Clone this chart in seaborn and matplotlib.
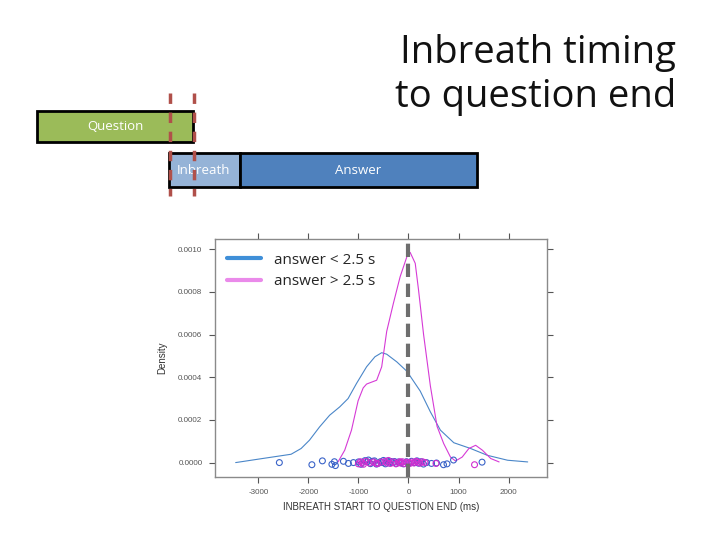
import numpy as np
import pandas as pd
import matplotlib
matplotlib.use("Agg")
import matplotlib.pyplot as plt
import seaborn as sns
from matplotlib.patches import Rectangle
from matplotlib.lines import Line2D

# ---------------- data ----------------
short_x = [-3453, -2918, -2346, -2145, -1978, -1777, -1575, -1374, -1207,
           -1038, -837, -670, -535, -435, -233, -32, 235, 437, 638, 906,
           1241, 1577, 1980, 2382]
short_y = [0.0, 0.000019, 0.000039, 0.000066, 0.000105, 0.000167, 0.000222,
           0.000261, 0.000300, 0.000371, 0.000449, 0.000496, 0.000515,
           0.000508, 0.000472, 0.000428, 0.000335, 0.000238, 0.000152,
           0.000093, 0.000066, 0.000034, 0.000011, 0.000003]

long_x = [-1408, -1274, -1139, -1006, -905, -837, -771, -636, -535, -435,
          -302, -167, -32, 34, 135, 201, 302, 437, 571, 704, 839, 940, 1074,
          1207, 1342, 1477, 1644, 1811]
long_y = [0.000003, 0.000058, 0.000152, 0.000290, 0.000350, 0.000368,
          0.000374, 0.000386, 0.000449, 0.000615, 0.000746, 0.000871,
          0.000965, 0.000985, 0.000934, 0.000809, 0.000600, 0.000360,
          0.000170, 0.000089, 0.000026, 0.0000075, 0.000026, 0.000066,
          0.000081, 0.000058, 0.000019, 0.000003]

short_pts = [-2580, -1930, -1720, -1530, -1480, -1460, -1300, -1200, -1100,
             -1000, -950, -870, -820, -800, -760, -720, -680, -640, -600,
             -560, -520, -500, -460, -420, -380, -350, -320, -280, -240,
             -200, -150, -100, -40, 0, 60, 120, 170, 200, 250, 300, 360, 460,
             560, 700, 770, 900, 1470]
short_jit = [0.0, -0.000010, 0.000008, -0.000008, 0.000004, -0.000014,
             0.000006, -0.000004, 0.0, 0.000003, -0.000008, 0.000009,
             0.000004, 0.000012, -0.000005, 0.000006, 0.000008, -0.000007,
             -0.000003, 0.000004, 0.0, 0.000010, -0.000006, 0.000007,
             -0.000002, 0.000005, 0.0, 0.000005, -0.000004, 0.000003, 0.0,
             -0.000006, 0.000004, -0.000004, 0.000006, 0.0, 0.000008,
             -0.000003, 0.000004, -0.000007, 0.0, -0.000004, -0.000002,
             -0.000010, -0.000006, 0.000012, 0.000002]

long_pts = [-1000, -960, -920, -900, -850, -780, -700, -650, -620, -550,
            -470, -430, -400, -360, -300, -250, -200, -170, -150, -120, -80,
            -40, 0, 30, 70, 110, 150, 190, 230, 280, 330, 550, 1320]
long_jit = [-0.000006, 0.000004, 0.0, -0.000008, 0.000006, -0.000002,
            0.000003, -0.000003, -0.000005, 0.000002, 0.000006, -0.000002,
            0.000010, -0.000004, 0.000003, -0.000006, 0.0, 0.000004,
            -0.000003, 0.000004, -0.000005, 0.000002, 0.0, -0.000004,
            0.000003, -0.000002, 0.000006, 0.000002, -0.000003, 0.000004,
            0.0, -0.000004, -0.000010]

x_ticks = [-3000, -2000, -1000, 0, 1000, 2000]
y_ticks = [0.0, 0.0002, 0.0004, 0.0006, 0.0008, 0.0010]
y_tick_labels = ["0.0000", "0.0002", "0.0004", "0.0006", "0.0008", "0.0010"]
legend_labels = ["answer < 2.5 s", "answer > 2.5 s"]

# ---------------- figure ----------------
sns.set_theme(style="white")
plt.rcParams["font.family"] = ["Open Sans", "DejaVu Sans"]

W, H = 720, 540
fig = plt.figure(figsize=(7.2, 5.4), dpi=100)
fig.patch.set_facecolor("white")

# diagram overlay in pixel coordinates
bg = fig.add_axes([0, 0, 1, 1])
bg.set_xlim(0, W)
bg.set_ylim(H, 0)
bg.axis("off")

def box(x0, x1, y0, y1, color, label, tx=None):
    bg.add_patch(Rectangle((x0, y0), x1 - x0, y1 - y0, facecolor=color,
                           edgecolor="black", linewidth=2, zorder=2))
    bg.text(tx if tx is not None else (x0 + x1) / 2, (y0 + y1) / 2, label,
            color="white", ha="center", va="center", fontsize=9.5,
            family=["Open Sans", "DejaVu Sans"], zorder=3)

box(37, 193, 111, 142, "#9BBB59", "Question", tx=115)
box(169, 240, 153, 187, "#95B3D7", "Inbreath", tx=204)
box(240, 477, 153, 187, "#4F81BD", "Answer", tx=358)
for xv in (169.5, 193.5):
    bg.plot([xv, xv], [93, 196], color="#B0504A", linewidth=2.5,
            linestyle=(0, (3, 2.5)), zorder=4)

fig.text(676 / W, 1 - 34 / H, "Inbreath timing\nto question end",
         ha="right", va="top", fontsize=27.5, color="#111111",
         linespacing=1.22, family=["Open Sans", "DejaVu Sans"])

# density axes
L, R, T, B = 215, 547, 239, 477
ax = fig.add_axes([L / W, 1 - B / H, (R - L) / W, (B - T) / H])

blue_line, pink_line = "#4A86C8", "#D63AD6"
blue_pt, pink_pt = "#3A63C8", "#D02ED0"

df_s = pd.DataFrame({"x": short_x, "y": short_y})
df_l = pd.DataFrame({"x": long_x, "y": long_y})
sns.lineplot(data=df_s, x="x", y="y", ax=ax, color=blue_line, linewidth=0.8,
             sort=False)
sns.lineplot(data=df_l, x="x", y="y", ax=ax, color=pink_line, linewidth=0.8,
             sort=False)

df_sp = pd.DataFrame({"x": short_pts, "y": short_jit})
df_lp = pd.DataFrame({"x": long_pts, "y": long_jit})
sns.scatterplot(data=df_sp, x="x", y="y", ax=ax, marker="o", s=18,
                facecolor="none", edgecolor=blue_pt, linewidth=0.8, zorder=3)
sns.scatterplot(data=df_lp, x="x", y="y", ax=ax, marker="o", s=18,
                facecolor="none", edgecolor=pink_pt, linewidth=0.8, zorder=3)

ax.axvline(0, color="#6E6E6E", linewidth=3, linestyle=(0, (3.2, 1.6)), zorder=5)

ax.set_xlim(-3866, 2768)
ax.set_ylim(-0.0000676, 0.001048)
ax.set_xticks(x_ticks)
ax.set_xticklabels([str(v) for v in x_ticks])
ax.set_yticks(y_ticks)
ax.set_yticklabels(y_tick_labels)
ax.tick_params(axis="both", which="both", direction="out", length=4,
               width=0.8, color="#555555", labelsize=5.8, labelcolor="#555555",
               top=True, right=True, bottom=True, left=True, pad=5)
for sp in ax.spines.values():
    sp.set_color("#8A8A8A")
    sp.set_linewidth(1.0)
ax.set_xlabel("INBREATH START TO QUESTION END (ms)", fontsize=7,
              color="#333333", labelpad=4, family=["Liberation Sans", "DejaVu Sans"])
ax.set_ylabel("Density", fontsize=7, color="#333333", labelpad=8,
              family=["Liberation Sans", "DejaVu Sans"])
for lab in ax.get_xticklabels() + ax.get_yticklabels():
    lab.set_family(["Liberation Sans", "DejaVu Sans"])

handles = [Line2D([0], [0], color="#3F8FD8", linewidth=3),
           Line2D([0], [0], color="#EA8AEA", linewidth=3)]
ax.legend(handles, legend_labels, loc="upper left", frameon=False,
          fontsize=11, handlelength=2.2, handletextpad=0.9,
          bbox_to_anchor=(-0.005, 1.0), labelspacing=0.42)

fig.savefig("out.png", dpi=100, facecolor="white")
